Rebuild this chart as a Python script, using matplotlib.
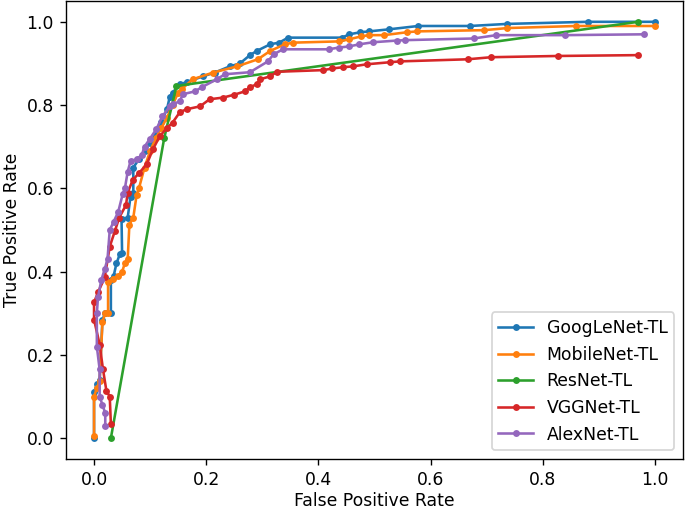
import matplotlib
matplotlib.use("Agg")
import matplotlib.pyplot as plt

labels = ["GoogLeNet-TL", "MobileNet-TL", "ResNet-TL", "VGGNet-TL", "AlexNet-TL"]

googlenet_fpr = [0, 0, 0.005, 0.01, 0.015, 0.02, 0.03, 0.03, 0.035, 0.04, 0.046, 0.05, 0.049, 0.06,
                 0.065, 0.07, 0.07, 0.08, 0.09, 0.1, 0.11, 0.12, 0.13, 0.135, 0.14, 0.153, 0.165,
                 0.194, 0.215, 0.242, 0.26, 0.278, 0.29, 0.314, 0.33, 0.346, 0.442, 0.455, 0.475,
                 0.49, 0.526, 0.578, 0.67, 0.737, 0.88, 1.0]
googlenet_tpr = [0, 0.11, 0.13, 0.14, 0.285, 0.30, 0.30, 0.38, 0.39, 0.42, 0.442, 0.445, 0.526, 0.53,
                 0.58, 0.59, 0.65, 0.67, 0.69, 0.71, 0.73, 0.76, 0.79, 0.82, 0.83, 0.85, 0.855,
                 0.869, 0.878, 0.893, 0.90, 0.92, 0.93, 0.946, 0.95, 0.962, 0.962, 0.97, 0.975,
                 0.977, 0.982, 0.99, 0.99, 0.995, 1.0, 1.0]

mobilenet_fpr = [0, 0, 0.005, 0.01, 0.015, 0.02, 0.025, 0.025, 0.034, 0.042, 0.05, 0.055, 0.06, 0.063,
                 0.07, 0.076, 0.08, 0.09, 0.1, 0.11, 0.12, 0.13, 0.14, 0.15, 0.156, 0.176, 0.212,
                 0.255, 0.292, 0.314, 0.34, 0.355, 0.437, 0.455, 0.476, 0.49, 0.517, 0.558, 0.576,
                 0.696, 0.737, 0.86, 1.0]
mobilenet_tpr = [0.005, 0.10, 0.12, 0.137, 0.28, 0.30, 0.30, 0.375, 0.382, 0.39, 0.40, 0.42, 0.43, 0.513,
                 0.53, 0.585, 0.60, 0.65, 0.69, 0.72, 0.745, 0.77, 0.80, 0.83, 0.838, 0.862, 0.878,
                 0.893, 0.91, 0.93, 0.946, 0.95, 0.953, 0.958, 0.965, 0.968, 0.968, 0.975, 0.977,
                 0.98, 0.985, 0.99, 0.99]

resnet_fpr = [0.03, 0.125, 0.147, 0.97]
resnet_tpr = [0.0, 0.72, 0.846, 1.0]

vggnet_fpr = [0.03, 0.028, 0.022, 0.016, 0.01, 0.0, 0.0, 0.007, 0.019, 0.028, 0.037, 0.045, 0.057,
              0.06, 0.069, 0.081, 0.094, 0.105, 0.117, 0.13, 0.14, 0.153, 0.165, 0.189, 0.206,
              0.23, 0.25, 0.269, 0.278, 0.29, 0.296, 0.314, 0.326, 0.409, 0.425, 0.444, 0.462,
              0.486, 0.528, 0.546, 0.666, 0.708, 0.828, 0.97]
vggnet_tpr = [0.034, 0.10, 0.114, 0.165, 0.225, 0.285, 0.326, 0.35, 0.386, 0.46, 0.497, 0.53, 0.56,
              0.59, 0.62, 0.638, 0.658, 0.694, 0.725, 0.745, 0.758, 0.783, 0.79, 0.797, 0.814,
              0.818, 0.825, 0.833, 0.843, 0.85, 0.862, 0.869, 0.88, 0.884, 0.888, 0.891, 0.893,
              0.898, 0.903, 0.905, 0.91, 0.915, 0.918, 0.92]

alexnet_fpr = [0.02, 0.02, 0.015, 0.01, 0.01, 0.005, 0.005, 0.007, 0.013, 0.019, 0.024, 0.028, 0.035,
               0.043, 0.051, 0.055, 0.06, 0.065, 0.076, 0.085, 0.09, 0.099, 0.111, 0.122, 0.135,
               0.14, 0.153, 0.158, 0.18, 0.192, 0.219, 0.233, 0.278, 0.31, 0.32, 0.337, 0.418,
               0.436, 0.455, 0.473, 0.498, 0.54, 0.555, 0.677, 0.717, 0.84, 0.98]
alexnet_tpr = [0.03, 0.06, 0.08, 0.10, 0.165, 0.22, 0.30, 0.338, 0.38, 0.406, 0.43, 0.50, 0.52,
               0.543, 0.586, 0.60, 0.64, 0.665, 0.67, 0.68, 0.70, 0.718, 0.742, 0.773, 0.797,
               0.802, 0.809, 0.826, 0.833, 0.843, 0.862, 0.874, 0.879, 0.905, 0.922, 0.934, 0.934,
               0.938, 0.941, 0.946, 0.951, 0.955, 0.956, 0.96, 0.968, 0.968, 0.97]

series = [
    (googlenet_fpr, googlenet_tpr),
    (mobilenet_fpr, mobilenet_tpr),
    (resnet_fpr, resnet_tpr),
    (vggnet_fpr, vggnet_tpr),
    (alexnet_fpr, alexnet_tpr),
]

dpi = 124
fig = plt.figure(figsize=(685 / dpi, 512 / dpi), dpi=dpi)
ax = fig.add_axes([66 / 685, 53 / 512, 617 / 685, 458 / 512])

for (fx, ty), lab in zip(series, labels):
    ax.plot(fx, ty, marker='.', label=lab)

ax.set_xlabel("False Positive Rate", labelpad=2)
ax.set_ylabel("True Positive Rate", labelpad=3)
ax.set_xlim(-0.05, 1.05)
ax.set_ylim(-0.05, 1.05)
ax.legend(loc="lower right")

fig.savefig("out.png", dpi=dpi)
